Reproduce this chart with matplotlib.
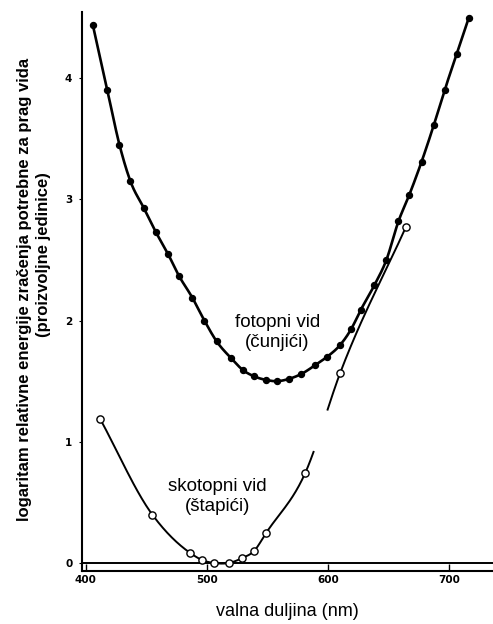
import numpy as np
import matplotlib
matplotlib.use("Agg")
import matplotlib.pyplot as plt

# -----------------------------
# Data
# -----------------------------
# fotopni vid (cunjici) - filled points
foto_nm = [406, 418, 428, 437, 448, 458, 468, 477, 488, 498, 508, 520, 530,
           539, 549, 558, 568, 578, 589, 599, 610, 619, 627, 638, 648, 658,
           667, 677, 687, 696, 706, 716]
foto_log = [4.44, 3.90, 3.45, 3.15, 2.93, 2.73, 2.55, 2.37, 2.19, 2.00, 1.83,
            1.69, 1.59, 1.54, 1.51, 1.50, 1.52, 1.56, 1.63, 1.70, 1.80, 1.93,
            2.09, 2.29, 2.50, 2.82, 3.04, 3.31, 3.61, 3.90, 4.20, 4.50]

# skotopni vid (stapici) - open points
skoto_nm = [412, 455, 486, 496, 506, 518, 529, 539, 549, 581, 610, 664]
skoto_log = [1.19, 0.40, 0.085, 0.025, 0.0, 0.0, 0.04, 0.10, 0.25, 0.74,
             1.57, 2.77]

x_ticks = [400, 500, 600, 700]
y_ticks = [0, 1, 2, 3, 4]

# the scotopic line is broken in the original drawing here
gap_nm = (589, 599)


def smooth(x, y, n=25):
    # cubic hermite curve through the points (just for drawing the line)
    x = np.asarray(x, float)
    y = np.asarray(y, float)
    m = np.gradient(y, x)
    xs, ys = [], []
    for i in range(len(x) - 1):
        h = x[i + 1] - x[i]
        t = np.linspace(0, 1, n, endpoint=False)
        h00 = 2 * t**3 - 3 * t**2 + 1
        h10 = t**3 - 2 * t**2 + t
        h01 = -2 * t**3 + 3 * t**2
        h11 = t**3 - t**2
        xs.append(x[i] + t * h)
        ys.append(h00 * y[i] + h10 * h * m[i] + h01 * y[i + 1] + h11 * h * m[i + 1])
    xs.append([x[-1]])
    ys.append([y[-1]])
    return np.concatenate(xs), np.concatenate(ys)


# -----------------------------
# Plot
# -----------------------------
plt.rcParams['font.family'] = ['Liberation Sans', 'DejaVu Sans']

W, H = 493, 624
fig = plt.figure(figsize=(W / 100, H / 100), dpi=100)
ax = fig.add_axes([82 / W, (H - 571) / H, (W - 82) / W, (571 - 12) / H])

# photopic curve
fx, fy = smooth(foto_nm, foto_log)
ax.plot(fx, fy, color='black', lw=1.9, zorder=3)
ax.plot(foto_nm, foto_log, 'o', color='black', ms=4.3, zorder=4)

# scotopic curve
sx, sy = smooth(skoto_nm, skoto_log)
sy = np.where((sx > gap_nm[0]) & (sx < gap_nm[1]), np.nan, sy)
ax.plot(sx, sy, color='black', lw=1.4, zorder=3)
ax.plot(skoto_nm, skoto_log, 'o', mfc='white', mec='black', mew=1.0,
        ms=5.2, zorder=4)

# zero line above the x axis
ax.axhline(0, color='black', lw=1.4, zorder=2)

ax.set_xlim(397.1, 735.9)
ax.set_ylim(-0.066, 4.546)

ax.spines['top'].set_visible(False)
ax.spines['right'].set_visible(False)
ax.spines['left'].set_linewidth(1.5)
ax.spines['bottom'].set_linewidth(1.5)

ax.set_xticks(x_ticks)
ax.set_yticks(y_ticks)
ax.tick_params(axis='x', direction='in', length=5, width=1.0, pad=3)
ax.tick_params(axis='y', direction='out', length=2, width=0.8, pad=5)
for lab in ax.get_xticklabels() + ax.get_yticklabels():
    lab.set_fontfamily('DejaVu Sans')
    lab.set_fontweight('bold')
    lab.set_fontsize(7.5)

# curve labels
ax.text(558, 1.90, 'fotopni vid\n(čunjići)', ha='center', va='center',
        fontsize=13.5, linespacing=1.2)
ax.text(509, 0.55, 'skotopni vid\n(štapići)', ha='center', va='center',
        fontsize=13.5, linespacing=1.2)

# axis titles
fig.text(287 / W, 1 - 612 / H, 'valna duljina (nm)', ha='center',
         va='center', fontsize=13)
fig.text(25 / W, 1 - 289 / H,
         'logaritam relativne energije zračenja potrebne za prag vida',
         rotation=90, ha='center', va='center', fontsize=12, fontweight='bold')
fig.text(44 / W, 1 - 255 / H, '(proizvoljne jedinice)', rotation=90,
         ha='center', va='center', fontsize=12, fontweight='bold')

fig.savefig('out.png', dpi=100)
